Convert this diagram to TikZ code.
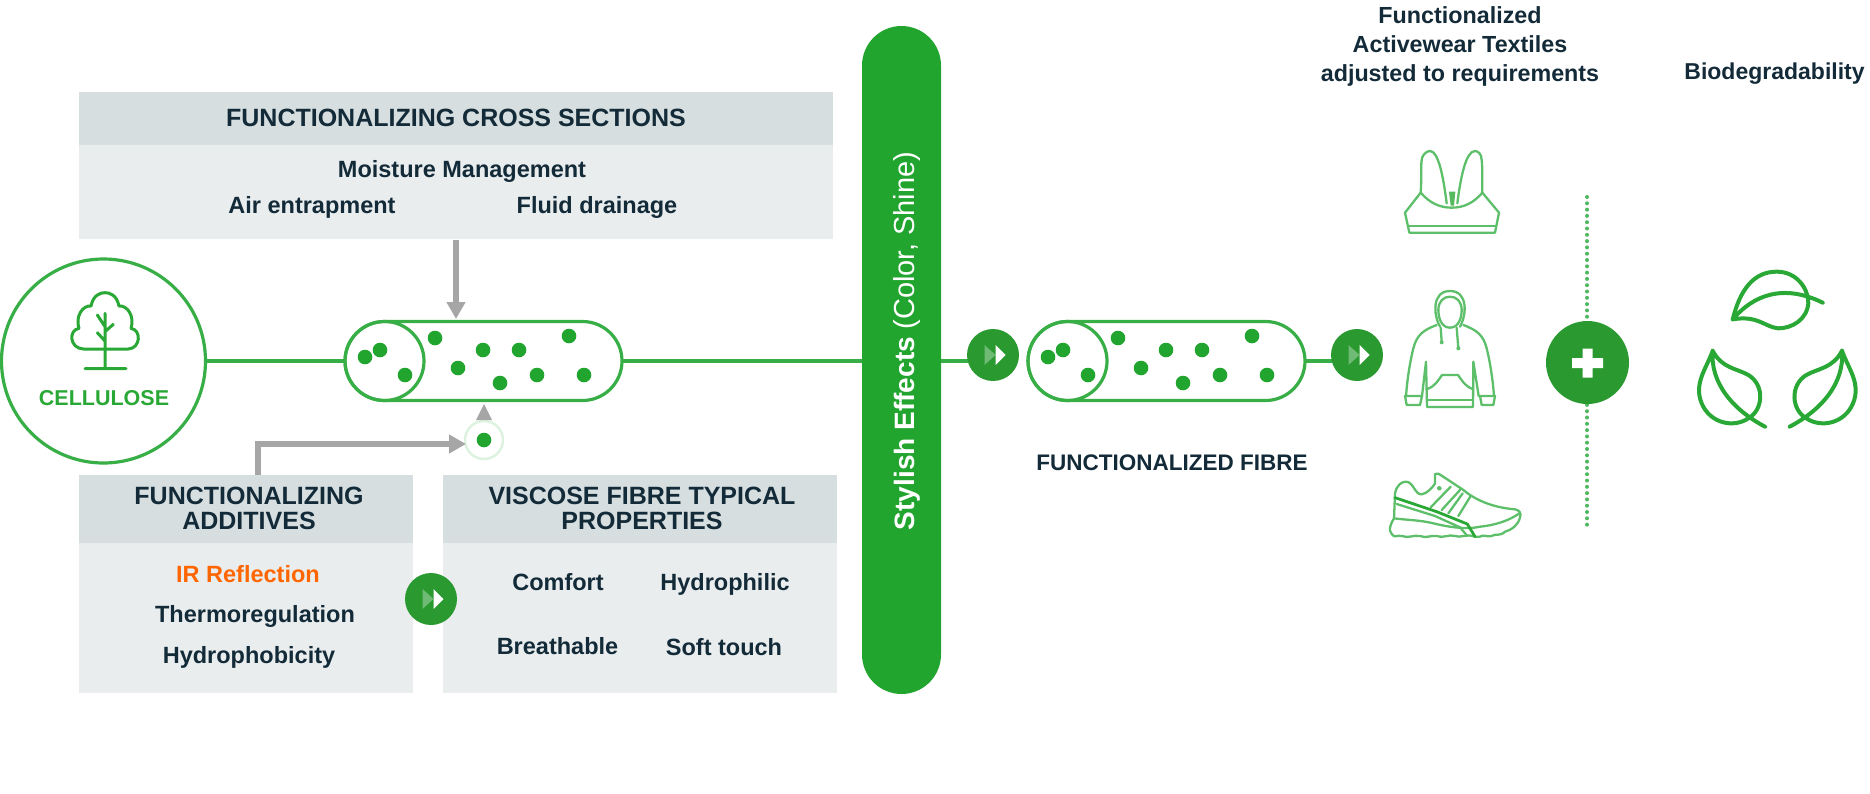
\documentclass[tikz,border=0pt]{standalone}
\usepackage{fontspec}
\setmainfont{Liberation Sans}
\usetikzlibrary{arrows.meta}
\usetikzlibrary{backgrounds}
\definecolor{leafgreen}{HTML}{2AA836}
\definecolor{fibregreen}{HTML}{38AE46}
\definecolor{iconline}{HTML}{5DBF6A}
\definecolor{dotgreen}{HTML}{4FB860}
\definecolor{bargreen}{HTML}{22A52F}
\definecolor{darkgreen}{HTML}{2A9A30}
\definecolor{paletri}{HTML}{6FBA75}
\definecolor{headfill}{HTML}{D6DEE0}
\definecolor{bodyfill}{HTML}{E9EDEE}
\definecolor{arrowgray}{HTML}{A6A6A6}
\definecolor{inktext}{HTML}{132A38}
\definecolor{irorange}{HTML}{FF6600}
\tikzset{
  headbox/.style={fill=headfill,inner sep=0,outer sep=0,anchor=north west},
  headtext/.style={text=inktext,inner sep=0,align=center,font=\bfseries\fontsize{25}{24.5}\selectfont},
  bodybox/.style={fill=bodyfill,inner sep=0,outer sep=0,anchor=north west},
  itemtext/.style={text=inktext,inner sep=0,font=\bfseries\fontsize{23.5}{25}\selectfont},
  fibreline/.style={draw=fibregreen,line width=3.2pt},
  iconstroke/.style={draw=iconline,line width=2.3pt,line cap=round,line join=round},
  leafstroke/.style={draw=leafgreen,line width=4pt,line cap=round,line join=round},
  grayarrow/.style={draw=arrowgray,line width=6pt,-{Triangle[length=17pt,width=18pt]}},
  pics/fibre/.style={code={
    \node[draw=fibregreen,fill=white,line width=3.2pt,minimum width=277pt,minimum height=79pt,inner sep=0,outer sep=0,rounded corners=39.5pt] (-body) at (138.5,0) {};
    \node[circle,draw=fibregreen,line width=3.2pt,minimum size=79pt,inner sep=0,outer sep=0] (-end) at (39.5,0) {};
    \foreach \dx/\dy in {20/-4,35/-11,60/14,90/-23,113/7,138/-11,174/-11,155/22,192/14,224/-25,239/14}
      \fill[bargreen] (\dx,\dy) circle (7.3pt);
  }},
  pics/arrowmark/.style={code={
    \node[circle,fill=darkgreen,minimum size=52pt,inner sep=0,outer sep=0] (-body) at (0,0) {};
    \fill[paletri] (-8.5,-10)--(2.5,0)--(-8.5,10)--cycle;
    \fill[white] (2.5,-10)--(12.5,0)--(2.5,10)--cycle;
  }},
}
\newcommand{\sideleaf}{
  (68,332) .. controls (95,385) and (140,385) .. (175,405)
  .. controls (225,435) and (220,510) .. (175,535)
  .. controls (130,565) and (60,550) .. (35,490)
  .. controls (10,430) and (50,385) .. (68,332)
  (68,332) .. controls (60,430) and (130,510) .. (225,560)
}
\begin{document}
\begin{tikzpicture}[x=1pt,y=-1pt]
  \useasboundingbox (0,0) rectangle (1870,793);

  \node[circle,draw=fibregreen,line width=3.2pt,minimum size=204pt,inner sep=0,outer sep=0] (cellulose) at (103.5,361) {};
  \begin{scope}[shift={(20,280)},scale=1/3]
    \draw[leafstroke,line width=3pt] (190,207) -- (325,207)
      .. controls (362,205) and (365,150) .. (333,145)
      .. controls (345,110) and (322,75) .. (297,78)
      .. controls (290,45) and (270,38) .. (255,38)
      .. controls (240,38) and (220,45) .. (213,78)
      .. controls (188,75) and (165,110) .. (177,145)
      .. controls (145,150) and (148,205) .. (190,207);
    \draw[leafstroke,line width=3pt] (255,100) -- (255,265) (195,266) -- (318,266)
      (232,105) -- (255,140) (280,133) -- (255,155) (232,158) -- (255,183);
  \end{scope}
  \node[text=leafgreen,font=\bfseries\fontsize{21.5}{22}\selectfont,inner sep=0] (celltext) at (104,398) {CELLULOSE};

  \pic (fa) at (345,361) {fibre};
  \pic (fb) at (1028,361) {fibre};
  \node[circle,draw=bargreen!15,fill=white,line width=2.5pt,minimum size=38pt,inner sep=0,outer sep=0] (halo) at (484,440) {};
  \fill[bargreen] (halo) circle (7.3pt);

  \node[headbox,minimum width=754pt,minimum height=53pt] (crosshead) at (79,92) {};
  \node[headtext] (crosstitle) at (456,118) {FUNCTIONALIZING CROSS SECTIONS};
  \node[bodybox,minimum width=754pt,minimum height=94pt] (crossbody) at (79,145) {};
  \node[itemtext] (moisture) at (462,171) {Moisture Management};
  \node[itemtext] (air) at (312,207) {Air entrapment};
  \node[itemtext] (fluid) at (597,207) {Fluid drainage};

  \node[headbox,minimum width=334pt,minimum height=68pt] (addhead) at (79,475) {};
  \node[headtext] (addtitle) at (249,508.5) {FUNCTIONALIZING\\ADDITIVES};
  \node[bodybox,minimum width=334pt,minimum height=150pt] (addbody) at (79,543) {};
  \node[itemtext,text=irorange] (ir) at (248,574) {IR Reflection};
  \node[itemtext] (thermo) at (255,616) {Thermoregulation};
  \node[itemtext] (hydrophob) at (249,657) {Hydrophobicity};

  \node[headbox,minimum width=394pt,minimum height=68pt] (vischead) at (443,475) {};
  \node[headtext] (vistitle) at (642,508.5) {VISCOSE FIBRE TYPICAL\\PROPERTIES};
  \node[bodybox,minimum width=394pt,minimum height=150pt] (visbody) at (443,543) {};
  \node[itemtext] (comfort) at (558,582.5) {Comfort};
  \node[itemtext] (hydrophil) at (725,584) {Hydrophilic};
  \node[itemtext] (breath) at (557.5,646) {Breathable};
  \node[itemtext] (soft) at (724,647) {Soft touch};

  \pic (arra) at (431,599) {arrowmark};
  \pic (arrb) at (993,355) {arrowmark};
  \pic (arrc) at (1357,355) {arrowmark};

  \node[fill=bargreen,minimum width=79pt,minimum height=668pt,inner sep=0,outer sep=0,rounded corners=39.5pt] (bar) at (901.5,360) {};
  \node[rotate=90,text=white,inner sep=0] (bartext) at (907,341) {\fontsize{28}{28}\selectfont\bfseries Stylish Effects\ \mdseries\fontsize{29}{28}\selectfont (Color, Shine)};

  \node[text=inktext,inner sep=0,font=\bfseries\fontsize{22.5}{25}\selectfont] (fibrelabel) at (1172,463) {FUNCTIONALIZED FIBRE};
  \node[text=inktext,inner sep=0,align=center,font=\bfseries\fontsize{23.3}{29}\selectfont] (textiles) at (1460,46.5) {Functionalized\\Activewear Textiles\\adjusted to requirements};
  \node[text=inktext,inner sep=0,font=\bfseries\fontsize{23}{25}\selectfont] (biodeg) at (1774.5,74) {Biodegradability};

  \coordinate (dottop) at (1587,197);
  \coordinate (dotbot) at (1587,526);
  \draw[draw=dotgreen,line width=4pt,line cap=round,dash pattern=on 0pt off 6.3pt] (dottop) -- (dotbot);
  \node[circle,fill=darkgreen,minimum size=83pt,inner sep=0,outer sep=0] (plus) at (1587.5,362.5) {};
  \fill[white] (1572,358) rectangle (1603,368) (1582.5,348.5) rectangle (1592.5,377.5);

  \begin{scope}[on background layer]
    \draw[fibreline] (cellulose) -- (fa-body);
    \draw[fibreline] (fa-body.east) -- (fa-body.east -| bar.west);
    \draw[fibreline] (bar.east |- fb-body) -- (arrb-body.center |- fb-body);
    \draw[fibreline] (fb-body.east) -- (arrc-body.center |- fb-body);
  \end{scope}

  \coordinate (toptail) at (456,240);
  \coordinate (toptip) at (456,319);
  \draw[grayarrow] (toptail) -- (toptip);
  \coordinate (addtail) at (258,475);
  \coordinate (addtip) at (466,444);
  \draw[grayarrow] (addtail) |- (addtip);
  \fill[arrowgray] (476,420)--(484,404)--(492,420)--cycle;

  \begin{scope}[shift={(1380,140)},scale=1/3]
    \draw[iconstroke] (122,158) .. controls (125,120) and (122,85) .. (125,60)
      .. controls (128,38) and (145,33) .. (150,33)
      .. controls (175,33) and (190,110) .. (200,190);
    \draw[iconstroke] (232,190) .. controls (242,110) and (258,33) .. (285,33)
      .. controls (292,33) and (305,40) .. (305,60)
      .. controls (308,85) and (306,120) .. (307,158);
    \draw[iconstroke] (122,158) .. controls (150,190) and (180,203) .. (215,203)
      .. controls (250,203) and (280,190) .. (307,158);
    \draw[iconstroke] (122,158) -- (75,218) -- (88,278) -- (345,278) -- (357,218) -- (307,158);
    \draw[iconstroke] (85,258) -- (347,258);
    \fill[leafgreen!80!white] (207,155) -- (226,155) -- (222,197) -- (212,197) -- cycle;
  \end{scope}

  \begin{scope}[shift={(1390,265)},scale=1/3]
    \draw[iconstroke] (180,188) .. controls (150,188) and (145,150) .. (145,135)
      .. controls (145,110) and (160,95) .. (180,95)
      .. controls (200,95) and (215,110) .. (215,135)
      .. controls (215,150) and (210,188) .. (180,188);
    \draw[iconstroke] (150,185) .. controls (130,150) and (125,78) .. (180,78)
      .. controls (235,78) and (230,150) .. (210,185);
    \draw[iconstroke] (140,180) .. controls (100,195) and (80,210) .. (70,250)
      .. controls (60,290) and (52,340) .. (48,393)
      (220,180) .. controls (260,195) and (280,210) .. (290,250)
      .. controls (300,290) and (308,340) .. (312,393);
    \draw[iconstroke] (152,188) -- (155,230) (200,188) -- (205,250);
    \fill[iconline] (155,232) circle (6) (205,250) circle (6);
    \draw[iconstroke] (45,393) -- (50,420) -- (90,420) -- (96,393) -- cycle
      (270,393) -- (275,420) -- (310,420) -- (315,393) -- cycle;
    \draw[iconstroke] (96,393) -- (108,290) -- (111,426) -- (249,426) -- (250,290) -- (266,393);
    \draw[iconstroke] (111,372) .. controls (135,365) and (145,345) .. (156,330) -- (204,330)
      .. controls (215,345) and (225,365) .. (249,372);
    \draw[iconstroke] (111,405) -- (249,405);
  \end{scope}

  \begin{scope}[shift={(1380,430)},scale=1/3]
    \draw[iconstroke] (42,265) -- (45,190) .. controls (50,165) and (65,155) .. (78,155)
      .. controls (100,155) and (105,195) .. (125,193)
      .. controls (140,192) and (160,170) .. (165,160)
      -- (165,132) .. controls (170,128) and (180,132) .. (185,137)
      -- (250,180) .. controls (280,205) and (330,232) .. (405,238)
      .. controls (418,240) and (425,250) .. (420,262)
      .. controls (415,285) and (395,300) .. (375,305)
      .. controls (360,320) and (345,310) .. (335,318)
      .. controls (320,322) and (310,312) .. (300,320)
      -- (285,320) .. controls (260,310) and (240,325) .. (225,318)
      .. controls (205,312) and (195,325) .. (170,318)
      .. controls (150,315) and (140,326) .. (120,318)
      .. controls (100,314) and (85,326) .. (65,318)
      .. controls (50,314) and (45,326) .. (35,312)
      .. controls (25,300) and (30,285) .. (42,265);
    \draw[iconstroke] (42,265) .. controls (80,270) and (120,270) .. (160,280)
      .. controls (200,290) and (260,300) .. (300,290)
      .. controls (350,285) and (390,270) .. (418,250);
    \draw[draw=leafgreen,line width=2.8pt,line cap=round] (45,203) -- (170,245) -- (262,282) -- (285,320);
    \draw[iconstroke] (50,222) -- (165,258) -- (240,292) -- (262,318);
    \draw[iconstroke] (152,232) -- (212,170) (185,240) -- (240,180) (205,250) -- (248,190) (235,258) -- (272,198);
    \draw[iconstroke] (178,175) circle (4);
  \end{scope}

  \begin{scope}[shift={(1690,240)},scale=1/3]
    \draw[leafstroke] (128,238) .. controls (150,150) and (190,95) .. (260,95)
      .. controls (320,95) and (355,145) .. (355,190)
      .. controls (350,240) and (305,265) .. (265,265)
      .. controls (225,262) and (205,225) .. (128,238)
      (128,238) .. controls (190,165) and (280,130) .. (398,188);
    \draw[leafstroke] \sideleaf;
  \end{scope}
  \begin{scope}[shift={(1864.67,240)},xscale=-1/3,yscale=1/3]
    \draw[leafstroke] \sideleaf;
  \end{scope}
\end{tikzpicture}
\end{document}
